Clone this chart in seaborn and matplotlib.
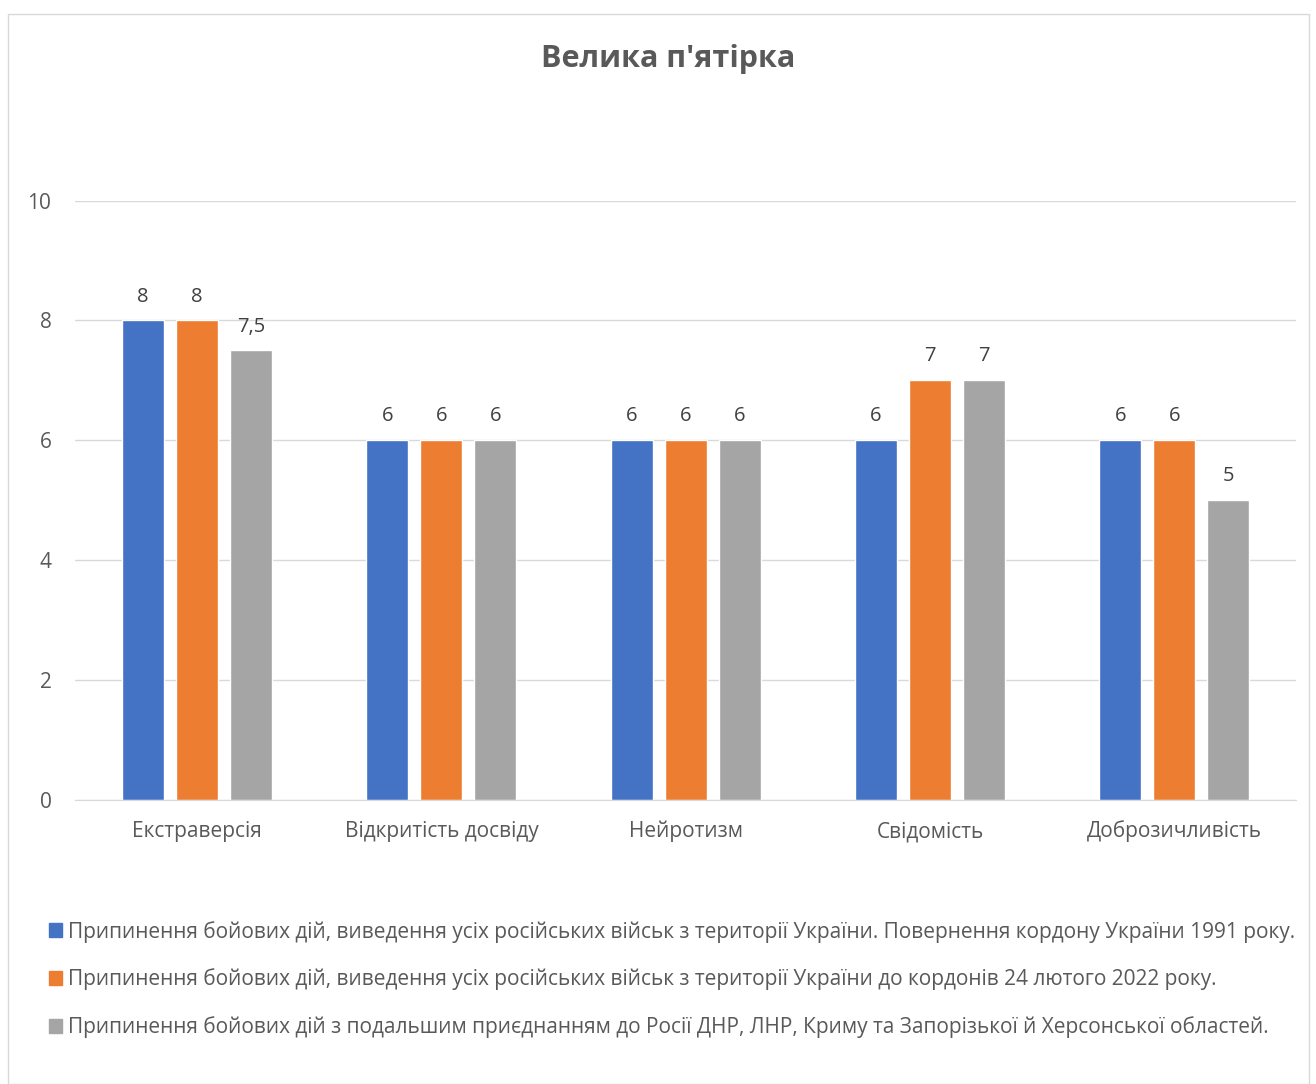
import seaborn as sns
import matplotlib.pyplot as plt
import matplotlib.patches as mpatches
import pandas as pd

# дані з діаграми
traits = ['Екстраверсія', 'Відкритість досвіду', 'Нейротизм', 'Свідомість', 'Доброзичливість']
series_names = [
    'Припинення бойових дій, виведення усіх російських військ з території України. Повернення кордону України 1991 року.',
    'Припинення бойових дій, виведення усіх російських військ з території України до кордонів 24 лютого 2022 року.',
    'Припинення бойових дій з подальшим приєднанням до Росії ДНР, ЛНР, Криму та Запорізької й Херсонської областей.',
]
vals_1991 = [8, 6, 6, 6, 6]
vals_2022 = [8, 6, 6, 7, 6]
vals_annex = [7.5, 6, 6, 7, 5]
colors = ['#4472C4', '#ED7D31', '#A5A5A5']

rows = []
for name, vals in zip(series_names, [vals_1991, vals_2022, vals_annex]):
    for t, v in zip(traits, vals):
        rows.append({'trait': t, 'series': name, 'value': v})
df = pd.DataFrame(rows)

sns.set_style('white')
plt.rcParams['font.family'] = ['Open Sans', 'DejaVu Sans']

fig = plt.figure(figsize=(13.16, 10.84), dpi=100)
ax = fig.add_axes([0.057, 0.262, 0.928, 0.553])

sns.barplot(data=df, x='trait', y='value', hue='series', palette=colors,
            width=0.663, gap=0.22, saturation=1, ax=ax, legend=False)

for cont in ax.containers:
    labels = [('%g' % v).replace('.', ',') for v in cont.datavalues]
    ax.bar_label(cont, labels=labels, padding=10, fontsize=14.5, color='#404040')

ax.set_ylim(0, 10)
ax.set_xlim(-0.5, 4.5)
ax.set_yticks([0, 2, 4, 6, 8, 10])
ax.yaxis.grid(True, color='#D9D9D9', linewidth=1)
ax.set_axisbelow(True)
for s in ['top', 'right', 'left']:
    ax.spines[s].set_visible(False)
ax.spines['bottom'].set_color('#D9D9D9')
ax.tick_params(axis='both', length=0, labelsize=15, labelcolor='#595959')
ax.tick_params(axis='y', pad=17)
ax.tick_params(axis='x', pad=27)
for lbl in ax.get_xticklabels():
    lbl.set_verticalalignment('baseline')
ax.set_xlabel('')
ax.set_ylabel('')

fig.text(0.508, 0.946, "Велика п'ятірка", ha='center', va='center',
         fontsize=22, fontweight='bold', color='#595959')

handles = [mpatches.Patch(color=c, label=n) for c, n in zip(colors, series_names)]
fig.legend(handles=handles, loc='upper left', bbox_to_anchor=(0.023, 0.168),
           frameon=False, fontsize=15, labelcolor='#595959',
           handlelength=0.62, handleheight=0.62, handletextpad=0.3, labelspacing=1.25)

# рамка діаграми
fig.patches.append(mpatches.Rectangle((0.006, 0.0), 0.989, 0.987, transform=fig.transFigure,
                                      fill=False, edgecolor='#D9D9D9', linewidth=1))

fig.savefig('out.png', dpi=100)
